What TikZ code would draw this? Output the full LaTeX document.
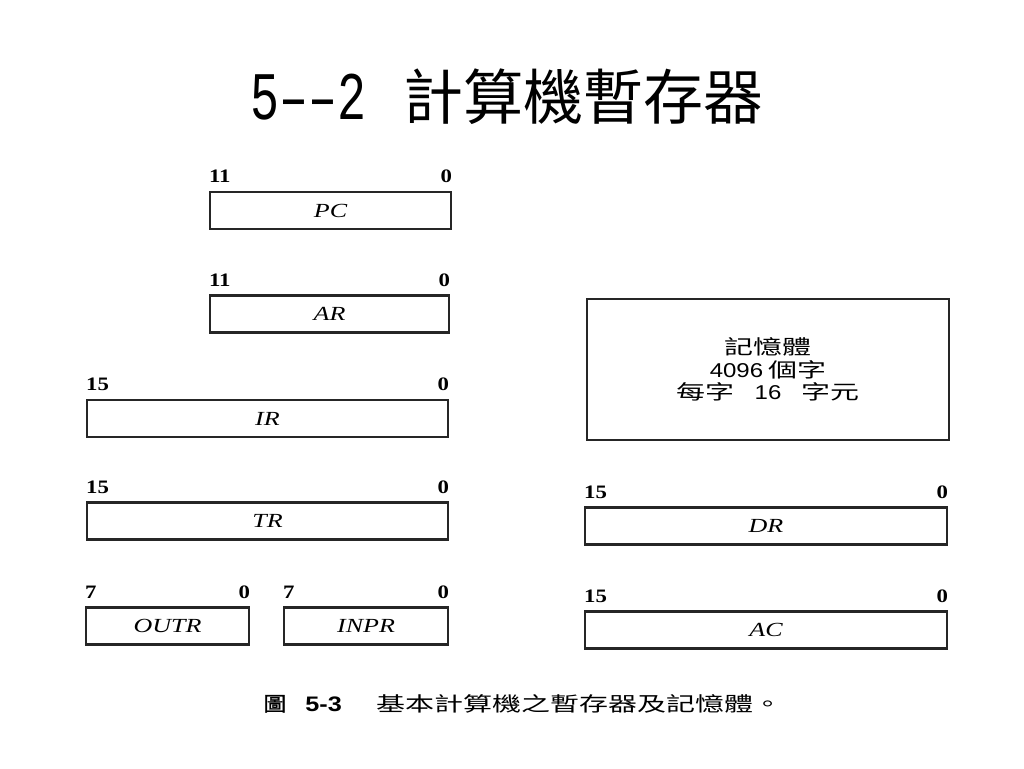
\documentclass[tikz,border=0pt]{standalone}
\usepackage{fontspec}
\setmainfont{Liberation Serif}
\newfontfamily\regfont[FakeStretch=1.3]{Liberation Serif}
\newfontfamily\bitfont[FakeStretch=1.2]{Liberation Serif}
\newfontfamily\numsans[FakeStretch=1.2]{Liberation Sans}
\newfontfamily\cjk[FakeStretch=1.45]{Noto Sans CJK TC}
\newfontfamily\cjkfig[FakeStretch=1.15,FakeBold=1.5]{Noto Sans CJK TC}
\newfontfamily\cjktitle{Noto Sans CJK TC}
\newfontfamily\titlemono[FakeStretch=0.71]{Liberation Mono}

\tikzset{
  reg/.style={draw=black!85, line width=1.3pt, inner sep=0pt, minimum height=18.5pt,
    font=\regfont\itshape\fontsize{10pt}{12pt}\selectfont},
  bitnum/.style={inner sep=0pt, font=\bitfont\bfseries\fontsize{9.5pt}{11pt}\selectfont},
}

\begin{document}
\begin{tikzpicture}[x=0.5pt, y=-0.5pt]
\path[use as bounding box, fill=white] (0,0) rectangle (1024,768);

% 標題
\node[anchor=base west, inner sep=0pt] (title) at (250,119)
  {{\titlemono\fontsize{34pt}{34pt}\selectfont 5––2}\hspace{18.5pt}{\cjktitle\fontsize{30pt}{30pt}\selectfont 計算機暫存器}};

% 暫存器
\foreach \rname/\txt/\x/\y/\w/\hi in {pc/PC/330.5/210.5/241/11, ar/AR/329.5/314/239/11,
    ir/IR/267.5/418.5/361/15, tr/TR/267.5/521/361/15,
    outr/OUTR/167.5/626/163/7, inpr/INPR/366/626/164/7,
    dr/DR/766/526/362/15, ac/AC/766/630/362/15}{
  \node[reg, minimum width=\w*0.5pt] (\rname) at (\x,\y) {\txt};
  \node[bitnum, anchor=base west] (\rname-hi) at ([yshift=4pt]\rname.north west) {\hi};
  \node[bitnum, anchor=base east] (\rname-lo) at ([yshift=4pt]\rname.north east) {0};
}

% 記憶體
\node[draw=black!85, line width=1.3pt, minimum width=181pt, minimum height=70.5pt,
  align=center, font=\fontsize{10pt}{11.25pt}\selectfont] (mem) at (768,369.5)
  {{\cjk 記憶體}\\
   {\numsans 4096} {\cjk 個字}\\
   {\cjk 每字}\hspace{10pt}{\numsans 16}\hspace{10pt}{\cjk 字元}};

% 圖說
\node[anchor=base west, inner sep=0pt, font=\fontsize{10pt}{12pt}\selectfont] (caption) at (263,711)
  {{\cjkfig 圖}\hspace{9.5pt}{\numsans\bfseries\fontsize{10.5pt}{12pt}\selectfont 5-3}\hspace{17.5pt}{\cjk 基本計算機之暫存器及記憶體。}};
\end{tikzpicture}
\end{document}
